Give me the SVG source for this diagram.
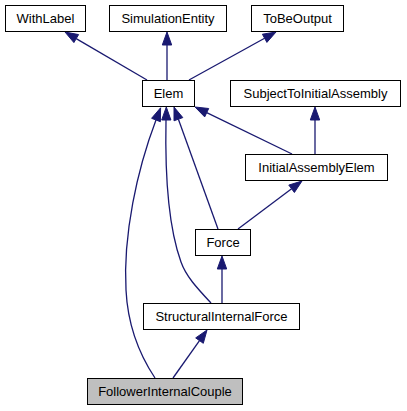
<svg xmlns="http://www.w3.org/2000/svg" width="407" height="411" viewBox="0 0 407 411">
<style>
.n rect{fill:#ffffff;stroke:#000000;stroke-width:1}
.n text{font-family:"Liberation Sans",Arial,sans-serif;font-size:13px;fill:#000000;text-anchor:middle}
.e path{fill:none;stroke:#191970;stroke-width:1.3}
.e polygon{fill:#191970;stroke:#191970;stroke-width:1}
</style>
<rect width="407" height="411" fill="#ffffff"/>
<g class="e" id="edges">
<path d="M147,80 L76.2,38.6"/><polygon points="65,32 73.9,42.6 78.6,34.6"/>
<path d="M167,80 L167,45"/><polygon points="167,32 162.3,45 171.7,45"/>
<path d="M189,80 L264.6,38.3"/><polygon points="276,32 262.4,34.2 266.9,42.4"/>
<path d="M315,154 L315,120"/><polygon points="315,107 310.3,120 319.7,120"/>
<path d="M292,154 L206.7,112.7"/><polygon points="195,107 204.7,116.9 208.7,108.5"/>
<path d="M238,229 L291.6,188.8"/><polygon points="302,181 288.8,185.1 294.4,192.5"/>
<path d="M218,229 L178.4,119.2"/><polygon points="174,107 174,120.8 182.8,117.6"/>
<path d="M222,303 L222,269"/><polygon points="222,256 217.3,269 226.7,269"/>
<path d="M211,303 C196,287 186,276 181,262 C168,226 165,170 166,120"/><polygon points="166.3,107 161.7,120 170.9,120"/>
<path d="M173,378 L199.5,340.6"/><polygon points="207,330 195.7,337.9 203.3,343.3"/>
<path d="M155,378 C141,357 128,330 126,290 C123,235 137,170 156,120"/><polygon points="160.6,107.8 160.4,121.7 151.6,118.3"/>
</g>
<g class="n" id="WithLabel"><rect x="5.5" y="5.5" width="80" height="26"/><text x="45.5" y="22.5">WithLabel</text></g>
<g class="n" id="SimulationEntity"><rect x="109.5" y="5.5" width="117" height="26"/><text x="168" y="22.5">SimulationEntity</text></g>
<g class="n" id="ToBeOutput"><rect x="251.5" y="5.5" width="92" height="26"/><text x="297.5" y="22.5">ToBeOutput</text></g>
<g class="n" id="Elem"><rect x="142.5" y="80.5" width="52" height="26"/><text x="168.5" y="97.5">Elem</text></g>
<g class="n" id="SubjectToInitialAssembly"><rect x="230.5" y="80.5" width="170" height="26"/><text x="315.5" y="97.5">SubjectToInitialAssembly</text></g>
<g class="n" id="InitialAssemblyElem"><rect x="245.5" y="154.5" width="142" height="26"/><text x="316.5" y="171.5">InitialAssemblyElem</text></g>
<g class="n" id="Force"><rect x="195.5" y="229.5" width="55" height="26"/><text x="223" y="246.5">Force</text></g>
<g class="n" id="StructuralInternalForce"><rect x="143.5" y="303.5" width="156" height="26"/><text x="221.5" y="320.5">StructuralInternalForce</text></g>
<g class="n" id="FollowerInternalCouple"><rect x="87.5" y="378.5" width="155" height="26" style="fill:#bfbfbf"/><text x="165" y="395.5">FollowerInternalCouple</text></g>
</svg>
